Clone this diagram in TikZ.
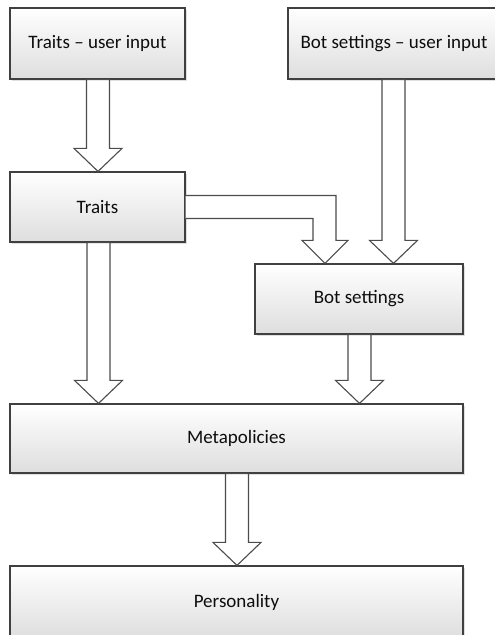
\documentclass[tikz,border=0pt]{standalone}
\usepackage{fontspec}
\setmainfont{Carlito}
\usetikzlibrary{calc, shadows}

% hollow block arrow: #1 centre x, #2 from node, #3 to node
\newcommand{\blockarrow}[3]{%
  \pgfmathsetmacro{\xa}{#1-11.5}\pgfmathsetmacro{\xb}{#1+11.5}%
  \draw[blockarr] (#1,0 |- #3.north) -- ++(-24,-23) -- ++(12.5,0)
    -- (\xa,0 |- #2.south) -- (\xb,0 |- #2.south)
    -- ($(\xb,0 |- #3.north)+(0,-23)$) -- ++(12.5,0) -- cycle;
}

\begin{document}
\begin{tikzpicture}[x=1pt,y=-1pt,
  box/.style={draw=black!75, line width=1.2pt, top color=white, bottom color=black!13,
    drop shadow={shadow xshift=1.5pt, shadow yshift=-1.5pt, opacity=0.25},
    inner sep=0pt, font=\fontsize{19}{22}\selectfont, text=black!95},
  blockarr/.style={draw=black!70, line width=1.1pt, fill=white, line join=miter}]
                \useasboundingbox (0,0) rectangle (495,635);

                \node[box, minimum width=175pt, minimum height=71pt] (tui) at (97.5,43.5) {Traits -- user input};
                \node[box, minimum width=212pt, minimum height=71pt] (bui) at (394,43.5) {Bot settings -- user input};
                \node[box, minimum width=175pt, minimum height=70pt] (tr) at (97.5,207) {Traits};
                \node[box, minimum width=208pt, minimum height=70pt] (bs) at (359,299) {Bot settings};
                \node[box, minimum width=453pt, minimum height=69pt] (mp) at (236.5,438.5) {Metapolicies};
                \node[box, minimum width=453pt, minimum height=72pt] (ps) at (236.5,602) {Personality};

                \blockarrow{98}{tui}{tr}
                \blockarrow{393.5}{bui}{bs}
                \blockarrow{98.5}{tr}{mp}
                \blockarrow{359.5}{bs}{mp}
                \blockarrow{237}{mp}{ps}

                \draw[blockarr] ($(tr.east)+(0,-11.5)$) -| ($(336,0 |- bs.north)+(0,-23)$)
                    -- ++(12,0) -- (325,0 |- bs.north) -- ++(-23,-23) -- ++(11,0)
                    |- ($(tr.east)+(0,11.5)$);
            \end{tikzpicture}
\end{document}
